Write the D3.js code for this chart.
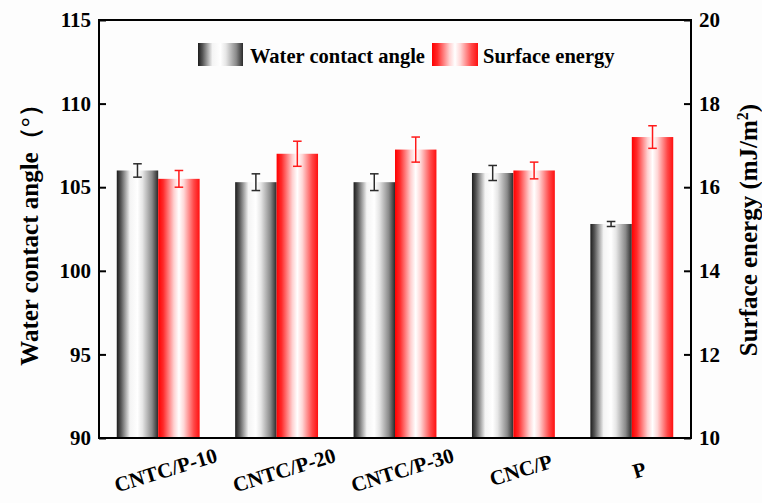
<!DOCTYPE html>
<html>
<head>
<meta charset="utf-8">
<script src="https://cdn.jsdelivr.net/npm/d3@7/dist/d3.min.js"></script>
<style>
  html, body { margin: 0; padding: 0; background: #fdfdfd; }
  svg { display: block; }
  svg text { font-family: "Liberation Serif", "Times New Roman", Times, "DejaVu Serif", serif !important; font-weight: bold; fill: #000; }
</style>
</head>
<body>
<svg id="chart" width="762" height="503"></svg>
<script>
// Sample groups
const categories = ["CNTC/P-10", "CNTC/P-20", "CNTC/P-30", "CNC/P", "P"];
// Water contact angle (°) with standard deviation
const contactAngle = [106.0, 105.3, 105.3, 105.85, 102.8];
const contactAngleErr = [0.4, 0.5, 0.5, 0.45, 0.15];
// Surface energy (mJ/m²) with standard deviation
const surfaceEnergy = [16.2, 16.8, 16.9, 16.4, 17.2];
const surfaceEnergyErr = [0.2, 0.3, 0.3, 0.2, 0.27];
// Axis ticks
const angleTicks = [90, 95, 100, 105, 110, 115];
const energyTicks = [10, 12, 14, 16, 18, 20];
const seriesNames = ["Water contact angle", "Surface energy"];

const FONT = "'Liberation Serif', 'Times New Roman', Times, 'DejaVu Serif', serif";

const svg = d3.select("#chart");
const W = 762, H = 503;
const margin = { top: 20, right: 71, bottom: 65, left: 99 };
const iw = W - margin.left - margin.right;
const ih = H - margin.top - margin.bottom;

// Cylinder-like gradients for the bars
const defs = svg.append("defs");
const grayGrad = defs.append("linearGradient").attr("id", "gradGray")
  .attr("x1", "0%").attr("x2", "100%").attr("y1", "0%").attr("y2", "0%");
[[0, "#1c1c1c"], [0.1, "#555"], [0.32, "#f4f4f4"], [0.5, "#ffffff"], [0.62, "#e6e6e6"], [0.85, "#8a8a8a"], [1, "#2a2a2a"]]
  .forEach(([o, c]) => grayGrad.append("stop").attr("offset", o).attr("stop-color", c));
const redGrad = defs.append("linearGradient").attr("id", "gradRed")
  .attr("x1", "0%").attr("x2", "100%").attr("y1", "0%").attr("y2", "0%");
[[0, "#ff0000"], [0.12, "#ff2a2a"], [0.38, "#ffd0d0"], [0.5, "#ffffff"], [0.62, "#ffd6d6"], [0.86, "#ff4848"], [1, "#ff1010"]]
  .forEach(([o, c]) => redGrad.append("stop").attr("offset", o).attr("stop-color", c));

const g = svg.append("g").attr("transform", `translate(${margin.left},${margin.top})`);

const x0 = d3.scaleBand().domain(categories).range([0, iw]).paddingInner(0.3).paddingOuter(0.15);
const x1 = d3.scaleBand().domain(seriesNames).range([0, x0.bandwidth()]);
const yL = d3.scaleLinear().domain([90, 115]).range([ih, 0]);
const yR = d3.scaleLinear().domain([10, 20]).range([ih, 0]);

const series = [
  { name: seriesNames[0], values: contactAngle, errs: contactAngleErr, y: yL, fill: "url(#gradGray)", err: "#2b2b2b" },
  { name: seriesNames[1], values: surfaceEnergy, errs: surfaceEnergyErr, y: yR, fill: "url(#gradRed)", err: "#ff1a1a" }
];

series.forEach(s => {
  const data = categories.map((c, i) => ({ c, v: s.values[i], e: s.errs[i] }));
  const grp = g.append("g");
  grp.selectAll("rect").data(data).join("rect")
    .attr("x", d => x0(d.c) + x1(s.name))
    .attr("width", x1.bandwidth())
    .attr("y", d => s.y(d.v))
    .attr("height", d => ih - s.y(d.v))
    .attr("fill", s.fill);
  // error bars
  const eb = grp.selectAll("g.err").data(data).join("g").attr("class", "err")
    .attr("stroke", s.err).attr("stroke-width", 1.5).attr("fill", "none");
  const cx = d => x0(d.c) + x1(s.name) + x1.bandwidth() / 2;
  const cap = 4.3;
  eb.append("line").attr("x1", cx).attr("x2", cx)
    .attr("y1", d => s.y(d.v + d.e)).attr("y2", d => s.y(d.v - d.e));
  eb.append("line").attr("x1", d => cx(d) - cap).attr("x2", d => cx(d) + cap)
    .attr("y1", d => s.y(d.v + d.e)).attr("y2", d => s.y(d.v + d.e));
  eb.append("line").attr("x1", d => cx(d) - cap).attr("x2", d => cx(d) + cap)
    .attr("y1", d => s.y(d.v - d.e)).attr("y2", d => s.y(d.v - d.e));
});

// Axes with inward ticks
const axL = g.append("g")
  .call(d3.axisLeft(yL).tickValues(angleTicks).tickSize(-7).tickSizeOuter(0).tickPadding(8));
const axR = g.append("g").attr("transform", `translate(${iw},0)`)
  .call(d3.axisRight(yR).tickValues(energyTicks).tickSize(-7).tickSizeOuter(0).tickPadding(8));
[axL, axR].forEach(ax => {
  ax.attr("font-family", FONT).attr("font-size", 21);
  ax.select(".domain").remove();
  ax.selectAll(".tick line").attr("stroke", "#000").attr("stroke-width", 2);
  ax.selectAll(".tick text").attr("font-weight", "bold").attr("fill", "#000");
});

// Frame
g.append("rect").attr("x", 0).attr("y", 0).attr("width", iw).attr("height", ih)
  .attr("fill", "none").attr("stroke", "#000").attr("stroke-width", 2);

// Category labels, slanted
g.append("g").selectAll("text").data(categories).join("text")
  .attr("transform", d => `translate(${x0(d) + x0.bandwidth() / 2 + 2},${ih + 14}) rotate(-17)`)
  .attr("y", 19)
  .attr("text-anchor", "middle")
  .attr("dominant-baseline", "central")
  .attr("font-family", FONT)
  .attr("font-size", 21)
  .text(d => d);

// Axis titles
svg.append("text")
  .attr("transform", `translate(37.5,${margin.top + ih / 2}) rotate(-90)`)
  .attr("text-anchor", "middle")
  .attr("font-family", FONT)
  .attr("font-size", 25)
  .text("Water contact angle（°）");

const rt = svg.append("text")
  .attr("transform", `translate(757,${margin.top + ih / 2 + 1}) rotate(-90)`)
  .attr("text-anchor", "middle")
  .attr("font-family", FONT)
  .attr("font-size", 25);
rt.append("tspan").text("Surface energy (mJ/m");
rt.append("tspan").attr("dy", -9).attr("font-size", 16).text("2");
rt.append("tspan").attr("dy", 9).text(")");

// Legend
const legend = svg.append("g").attr("font-family", FONT).attr("font-size", 20.5);
const legendItems = [
  { name: seriesNames[0], fill: "url(#gradGray)", x: 198, w: 45, tx: 250 },
  { name: seriesNames[1], fill: "url(#gradRed)", x: 432, w: 46, tx: 483 }
];
legendItems.forEach(it => {
  legend.append("rect").attr("x", it.x).attr("y", 43).attr("width", it.w).attr("height", 23).attr("fill", it.fill);
  legend.append("text").attr("x", it.tx).attr("y", 63).text(it.name);
});
</script>
</body>
</html>
